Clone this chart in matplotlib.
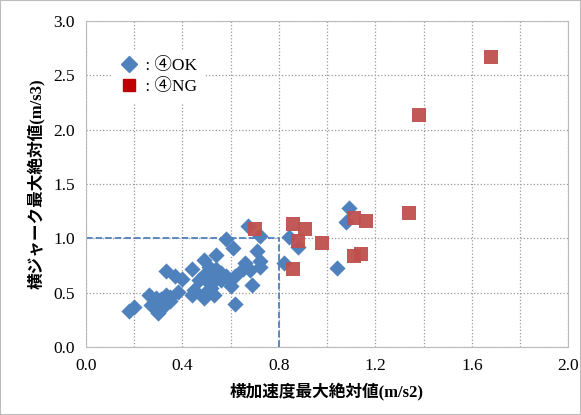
import matplotlib.pyplot as plt
from matplotlib.lines import Line2D
from matplotlib.patches import Rectangle

plt.rcParams['font.family'] = ['Liberation Serif', 'Noto Sans CJK JP']

# ④OK points (lateral accel, lateral jerk)
ok_x = [0.18, 0.26, 0.27, 0.30, 0.29, 0.33, 0.35, 0.35, 0.37, 0.38,
        0.40, 0.44, 0.44, 0.45, 0.47, 0.49, 0.49, 0.51, 0.51, 0.53,
        0.54, 0.54, 0.56, 0.58, 0.58, 0.60, 0.61, 0.62, 0.62, 0.65,
        0.67, 0.69, 0.71, 0.72, 0.72, 0.72, 0.82, 0.84, 0.88, 1.04,
        1.09, 1.08, 0.20, 0.31, 0.51, 0.49, 0.52, 0.54, 0.56, 0.68,
        0.33, 0.49, 0.66, 0.32]
ok_y = [0.33, 0.48, 0.39, 0.31, 0.45, 0.70, 0.46, 0.42, 0.65, 0.51,
        0.63, 0.72, 0.48, 0.52, 0.62, 0.45, 0.80, 0.68, 0.59, 0.48,
        0.85, 0.72, 0.62, 0.99, 0.65, 0.56, 0.91, 0.40, 0.65, 0.72,
        1.11, 0.57, 0.88, 1.02, 0.79, 0.74, 0.77, 1.01, 0.92, 0.73,
        1.28, 1.15, 0.37, 0.44, 0.74, 0.66, 0.54, 0.63, 0.68, 0.71,
        0.48, 0.49, 0.77, 0.37]

# ④NG points
ng_x = [0.70, 0.86, 0.91, 0.88, 0.86, 0.98, 1.11, 1.16, 1.11, 1.14,
        1.34, 1.38, 1.68]
ng_y = [1.09, 1.13, 1.09, 0.98, 0.72, 0.96, 1.19, 1.16, 0.84, 0.86,
        1.23, 2.14, 2.67]

x_ticks = [0.0, 0.4, 0.8, 1.2, 1.6, 2.0]
y_ticks = [0.0, 0.5, 1.0, 1.5, 2.0, 2.5, 3.0]

blue = '#4F81BD'
red = '#C0504D'

fig = plt.figure(figsize=(5.81, 4.15), dpi=100)
ax = fig.add_axes([0.148, 0.164, 0.830, 0.785])

ax.scatter(ok_x, ok_y, marker='D', s=68, color=blue, zorder=3, linewidths=0)
ax.scatter(ng_x, ng_y, marker='s', s=88, color=red, zorder=4, linewidths=0, alpha=0.95)

# threshold lines
ax.plot([0, 0.8], [1.0, 1.0], linestyle='--', color=blue, linewidth=1.3, zorder=2)
ax.plot([0.8, 0.8], [0, 1.0], linestyle='--', color=blue, linewidth=1.3, zorder=2)

ax.set_xlim(0, 2.0)
ax.set_ylim(0, 3.0)
ax.set_xticks(x_ticks)
ax.set_xticks([0.2, 0.6, 1.0, 1.4, 1.8], minor=True)
ax.set_yticks(y_ticks)
ax.set_xticklabels(['%.1f' % v for v in x_ticks])
ax.set_yticklabels(['%.1f' % v for v in y_ticks])
ax.tick_params(which='both', length=0, labelsize=12.5, pad=8)
ax.grid(True, which='both', linestyle=':', color='#999999', linewidth=0.9)
ax.set_axisbelow(True)
for s in ax.spines.values():
    s.set_color('#BBBBBB')

ax.set_xlabel('横加速度最大絶対値(m/s2)', fontsize=12, fontweight='bold', labelpad=6)
ax.set_ylabel('横ジャーク最大絶対値(m/s3)', fontsize=12, fontweight='bold', labelpad=6)

handles = [Line2D([], [], marker='D', color=blue, linestyle='none', markersize=8),
           Line2D([], [], marker='s', color='#C00000', linestyle='none', markersize=8)]
leg = ax.legend(handles, [' : ④OK', ' : ④NG'], loc='upper left',
                bbox_to_anchor=(0.035, 0.935), frameon=True, fancybox=False,
                edgecolor='white', facecolor='white', framealpha=1,
                fontsize=12.5, handletextpad=0.1, labelspacing=0.25,
                borderpad=0.4, handlelength=1.2)
leg.set_zorder(5)

fig.patches.append(Rectangle((0, 0), 1, 1, transform=fig.transFigure,
                             fill=False, edgecolor='#BBBBBB', linewidth=1.5))

fig.savefig('out.png', dpi=100)
